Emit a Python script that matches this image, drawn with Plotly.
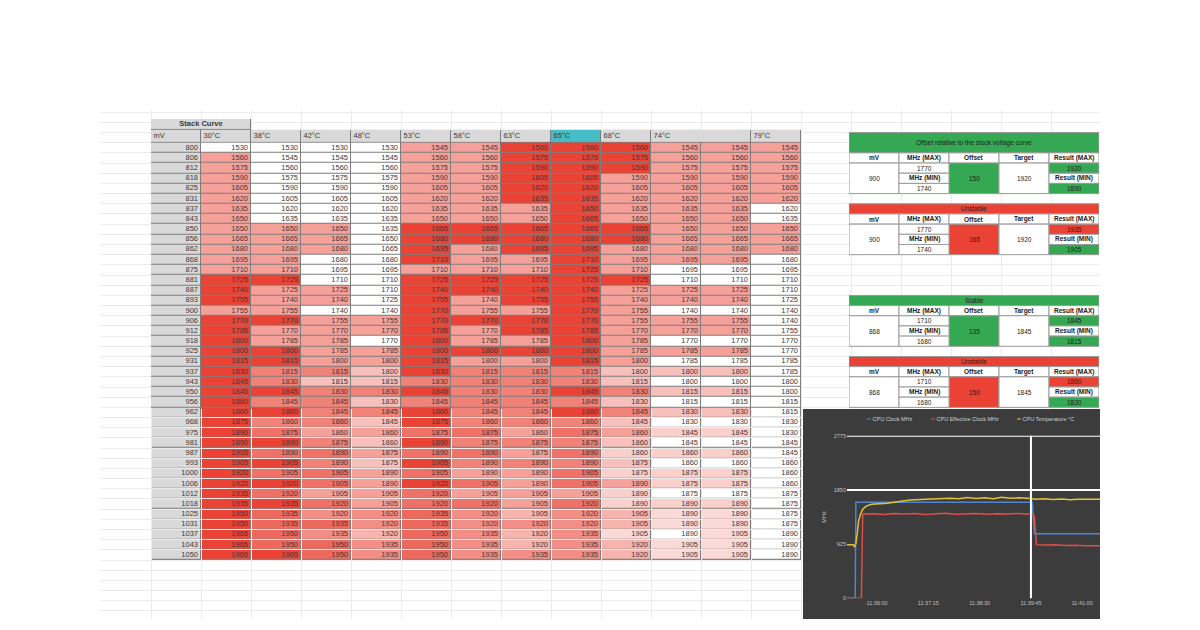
import numpy as np
import plotly.graph_objects as go

W, H = 1200, 630
PAGE_MARGIN = 8          # default <body> margin of the written page
FIG_W, FIG_H = W - 2 * PAGE_MARGIN, H - 2 * PAGE_MARGIN

# ---------------------------------------------------------------- stock curve
mv = [800, 806, 812, 818, 825, 831, 837, 843, 850, 856, 862, 868, 875, 881, 887, 893, 900,
      906, 912, 918, 925, 931, 937, 943, 950, 956, 962, 968, 975, 981, 987, 993, 1000,
      1006, 1012, 1018, 1025, 1031, 1037, 1043, 1050]

temp_labels = ["30°C", "38°C", "42°C", "48°C", "53°C", "58°C", "63°C", "65°C", "68°C", "74°C", "79°C"]
temp_spans = [1, 1, 1, 1, 1, 1, 1, 1, 1, 2, 1]   # 74°C was logged twice
highlight_label = "65°C"

mhz_30 = [1530, 1560, 1575, 1590, 1605, 1620, 1635, 1650, 1650, 1665, 1680, 1695, 1710, 1725,
          1740, 1755, 1755, 1770, 1785, 1800, 1800, 1815, 1830, 1845, 1845, 1860, 1860, 1875,
          1890, 1890, 1905, 1905, 1920, 1920, 1935, 1935, 1950, 1950, 1965, 1965, 1965]
mhz_38 = [1530, 1545, 1560, 1575, 1590, 1605, 1620, 1635, 1650, 1665, 1680, 1695, 1710, 1725,
          1725, 1740, 1755, 1770, 1770, 1785, 1800, 1815, 1815, 1830, 1845, 1845, 1860, 1860,
          1875, 1890, 1890, 1905, 1905, 1920, 1920, 1935, 1935, 1935, 1950, 1950, 1965]
mhz_42 = [1530, 1545, 1560, 1575, 1590, 1605, 1620, 1635, 1650, 1665, 1680, 1680, 1695, 1710,
          1725, 1740, 1740, 1755, 1770, 1785, 1785, 1800, 1815, 1815, 1830, 1845, 1845, 1860,
          1860, 1875, 1890, 1890, 1905, 1905, 1905, 1920, 1920, 1935, 1935, 1950, 1950]
mhz_48 = [1530, 1545, 1560, 1575, 1590, 1605, 1620, 1635, 1635, 1650, 1665, 1680, 1695, 1710,
          1710, 1725, 1740, 1755, 1770, 1770, 1785, 1800, 1800, 1815, 1830, 1830, 1845, 1845,
          1860, 1860, 1875, 1875, 1890, 1890, 1905, 1905, 1920, 1920, 1920, 1935, 1935]
mhz_53 = [1545, 1560, 1575, 1590, 1605, 1620, 1635, 1650, 1665, 1680, 1695, 1710, 1710, 1725,
          1740, 1755, 1770, 1770, 1785, 1800, 1800, 1815, 1830, 1830, 1845, 1845, 1860, 1875,
          1875, 1890, 1890, 1905, 1905, 1920, 1920, 1920, 1935, 1935, 1950, 1950, 1950]
mhz_58 = [1545, 1560, 1575, 1590, 1605, 1620, 1635, 1650, 1665, 1680, 1680, 1695, 1710, 1725,
          1740, 1740, 1755, 1770, 1770, 1785, 1800, 1800, 1815, 1830, 1830, 1845, 1845, 1860,
          1875, 1875, 1890, 1890, 1890, 1905, 1905, 1920, 1920, 1920, 1935, 1935, 1935]
mhz_63 = [1560, 1575, 1590, 1605, 1620, 1635, 1635, 1650, 1665, 1680, 1695, 1695, 1710, 1725,
          1740, 1755, 1755, 1770, 1785, 1785, 1800, 1800, 1815, 1830, 1830, 1845, 1845, 1860,
          1860, 1875, 1875, 1890, 1890, 1890, 1905, 1905, 1905, 1920, 1920, 1920, 1935]
mhz_65 = [1560, 1575, 1590, 1605, 1620, 1635, 1650, 1665, 1665, 1680, 1695, 1710, 1725, 1725,
          1740, 1755, 1770, 1770, 1785, 1800, 1800, 1815, 1815, 1830, 1845, 1845, 1860, 1860,
          1875, 1875, 1890, 1890, 1905, 1905, 1905, 1920, 1920, 1920, 1935, 1935, 1935]
mhz_68 = [1560, 1575, 1590, 1590, 1605, 1620, 1635, 1650, 1665, 1680, 1680, 1695, 1710, 1725,
          1725, 1740, 1755, 1755, 1770, 1785, 1785, 1800, 1800, 1815, 1830, 1830, 1845, 1845,
          1860, 1860, 1860, 1875, 1875, 1890, 1890, 1890, 1905, 1905, 1905, 1920, 1920]
mhz_74a = [1545, 1560, 1575, 1590, 1605, 1620, 1635, 1650, 1650, 1665, 1680, 1695, 1695, 1710,
           1725, 1740, 1740, 1755, 1770, 1770, 1785, 1785, 1800, 1800, 1815, 1815, 1830, 1830,
           1845, 1845, 1860, 1860, 1875, 1875, 1875, 1890, 1890, 1890, 1890, 1905, 1905]
mhz_74b = [1545, 1560, 1575, 1590, 1605, 1620, 1635, 1650, 1650, 1665, 1680, 1695, 1695, 1710,
           1725, 1740, 1740, 1755, 1770, 1770, 1785, 1785, 1800, 1800, 1815, 1815, 1830, 1830,
           1845, 1845, 1860, 1860, 1875, 1875, 1875, 1890, 1890, 1890, 1905, 1905, 1905]
mhz_79 = [1545, 1560, 1575, 1590, 1605, 1620, 1620, 1635, 1650, 1665, 1680, 1680, 1695, 1710,
          1710, 1725, 1740, 1740, 1755, 1770, 1770, 1785, 1785, 1800, 1800, 1815, 1815, 1830,
          1830, 1845, 1845, 1860, 1860, 1860, 1875, 1875, 1875, 1875, 1890, 1890, 1890]

columns = [mhz_30, mhz_38, mhz_42, mhz_48, mhz_53, mhz_58, mhz_63, mhz_65, mhz_68,
           mhz_74a, mhz_74b, mhz_79]

# ---------------------------------------------------------------- offset tables
offset_titles = ["Offset relative to the stock voltage curve", "Unstable", "Stable", "Unstable"]
offset_stable = [True, False, True, False]
offset_mv = [900, 900, 868, 868]
offset_mhz_max = [1770, 1770, 1710, 1710]
offset_mhz_min = [1740, 1740, 1680, 1680]
offset_value = [150, 165, 135, 150]
offset_target = [1920, 1920, 1845, 1845]
offset_headers = ["mV", "MHz (MAX)", "Offset", "Target", "Result (MAX)"]

# ---------------------------------------------------------------- sensor log
DAY = "2021-03-14 "
clock_time = ["11:35:16", "11:35:28", "11:35:29", "11:39:47", "11:39:50", "11:41:26"]
clock_mhz = [0, 0, 1640, 1640, 1100, 1100]

effective_time = ["11:35:16", "11:35:37", "11:35:39", "11:35:55", "11:36:10", "11:36:25",
                  "11:36:40", "11:36:55", "11:37:10", "11:37:25", "11:37:40", "11:37:55",
                  "11:38:10", "11:38:25", "11:38:40", "11:38:55", "11:39:10", "11:39:25",
                  "11:39:40", "11:39:47", "11:39:50", "11:39:53", "11:40:05", "11:40:20",
                  "11:40:35", "11:40:50", "11:41:05", "11:41:26"]
effective_mhz = [0, 0, 1440, 1445, 1432, 1448, 1438, 1446, 1430, 1444, 1450, 1436, 1442, 1447,
                 1433, 1445, 1439, 1448, 1437, 1440, 1400, 915, 908, 912, 900, 905, 895, 898]

temperature_time = ["11:35:16", "11:35:25", "11:35:27", "11:35:29", "11:35:31", "11:35:33",
                    "11:35:36", "11:35:39", "11:35:44", "11:35:52", "11:36:15", "11:36:48",
                    "11:37:20", "11:37:47", "11:38:00", "11:38:12", "11:38:25", "11:38:37",
                    "11:38:50", "11:39:02", "11:39:15", "11:39:27", "11:39:40", "11:39:52",
                    "11:40:05", "11:40:17", "11:40:30", "11:40:42", "11:40:55", "11:41:07",
                    "11:41:26"]
temperature_c = [32.9, 32.9, 31.8, 33.5, 40.0, 47.6, 52.0, 54.8, 56.7, 57.8, 58.5, 60.4, 61.1,
                 61.6, 61.2, 62.0, 61.4, 61.9, 61.3, 62.1, 61.5, 61.8, 61.6, 60.9, 61.2, 60.8,
                 61.1, 60.7, 61.0, 60.8, 60.9]

log_ticks = ["11:36:00", "11:37:15", "11:38:30", "11:39:45", "11:41:00"]
log_range = ["11:35:16", "11:41:26"]
event_time = "11:39:45"
y_ticks = [0, 925, 1850, 2775]
y_marks = [1850, 2775]

# ---------------------------------------------------------------- styling
FONT = "Liberation Sans"
TEXT = "#3a3a3a"
GREY = "#d9d9d9"
TEAL = "#46bdc6"
RED = "#ea4335"
GREEN = "#34a853"
BORDER = "#7d7d7d"
ROW_PX = 10.28          # spreadsheet row height in pixels
ROW0_PX = 141           # top of the 800 mV row
COL_PX, COL0_PX = 50, 101
STACK_TOP_PX, HEAD_TOP_PX = 117, 128
SHEET_L, SHEET_R, SHEET_T, SHEET_B = 100, 1100, 108, H - PAGE_MARGIN
CHART_L, CHART_R, CHART_T, CHART_B = 847, 1100, 437, 601
PANEL_L, PANEL_T, PANEL_B = 803, 410, 622
BLOCK_FIRST_ROW = [-1, 6, 15, 21]
BLOCK_TITLE_ROWS = [2, 1, 1, 1]


def px_x(px):
    return (px - PAGE_MARGIN) / FIG_W


def px_y(py):
    return 1 - (py - PAGE_MARGIN) / FIG_H


def px_row(py):
    return (py - ROW0_PX) / ROW_PX - 0.5


def sheet_axes(left, right, top, bottom, anchor):
    """Faint spreadsheet grid over a pixel box."""
    common = dict(tick0=0, dtick=1, showgrid=True, gridcolor="#ebebeb", gridwidth=1,
                  showticklabels=False, zeroline=False, fixedrange=True)
    xa = dict(domain=[px_x(left), px_x(right)], anchor=anchor[1],
              range=[(left - COL0_PX) / COL_PX, (right - COL0_PX) / COL_PX], **common)
    ya = dict(domain=[px_y(bottom), px_y(top)], anchor=anchor[0],
              range=[(bottom - ROW0_PX) / ROW_PX, (top - ROW0_PX) / ROW_PX], **common)
    return xa, ya


fig = go.Figure()

# faint spreadsheet grid, kept off the chart panel
fig.add_trace(go.Scatter(x=[], y=[], xaxis="x", yaxis="y", showlegend=False))
fig.add_trace(go.Scatter(x=[], y=[], xaxis="x5", yaxis="y6", showlegend=False))

# ---- stock curve table (x2 / y2)
grid = np.array(columns).T
n_rows, n_cols = grid.shape
lo = grid.min(axis=1, keepdims=True)
hi = grid.max(axis=1, keepdims=True)
shade = (grid - lo) / np.where(hi > lo, hi - lo, 1)

stack_row = [px_row(STACK_TOP_PX), px_row(HEAD_TOP_PX)]
head_row = [px_row(HEAD_TOP_PX), -0.5]
col_edges = np.arange(-1.5, n_cols + 0.5)
row_edges = [stack_row[0], head_row[0]] + list(np.arange(-0.5, n_rows + 0.5))
border_z = np.ones((len(row_edges) - 1, len(col_edges) - 1))
border_z[0, 2:] = np.nan
common = dict(xaxis="x2", yaxis="y2", showscale=False, hoverinfo="skip")

fig.add_trace(go.Heatmap(x=col_edges, y=row_edges, z=border_z,
                         colorscale=[[0, BORDER], [1, BORDER]], **common))
fig.add_trace(go.Heatmap(x=[-1.5, 0.5], y=stack_row, z=[[0]],
                         colorscale=[[0, GREY], [1, GREY]], xgap=1, ygap=1, **common))

head_edges = [-1.5, -0.5] + list(-0.5 + np.cumsum(temp_spans))
head_labels = ["mV"] + temp_labels
head_z = [[1 if lab == highlight_label else 0 for lab in head_labels]]
fig.add_trace(go.Heatmap(x=head_edges, y=head_row, z=head_z, zmin=0, zmax=1,
                         colorscale=[[0, GREY], [1, TEAL]], xgap=1, ygap=1, **common))
fig.add_trace(go.Heatmap(x=[-1.5, -0.5], y=np.arange(-0.5, n_rows), z=np.zeros((n_rows, 1)),
                         colorscale=[[0, GREY], [1, GREY]], xgap=1, ygap=1, **common))
fig.add_trace(go.Heatmap(x=np.arange(n_cols), y=np.arange(n_rows), z=shade, zmin=0, zmax=1,
                         colorscale=[[0, "#ffffff"], [1, RED]], xgap=1, ygap=1, **common))

cell_font = dict(family=FONT, size=7.5, color=TEXT)
text_common = dict(xaxis="x2", yaxis="y2", mode="text", showlegend=False, hoverinfo="skip",
                   textfont=cell_font)
fig.add_trace(go.Scatter(x=np.tile(np.arange(n_cols) + 0.44, n_rows),
                         y=np.repeat(np.arange(n_rows), n_cols),
                         text=[str(v) for v in grid.flatten()], textposition="middle left",
                         **text_common))
fig.add_trace(go.Scatter(x=[-0.56] * n_rows, y=np.arange(n_rows), text=[str(v) for v in mv],
                         textposition="middle left", **text_common))
fig.add_trace(go.Scatter(x=[e + 0.05 for e in head_edges[:-1]],
                         y=[sum(head_row) / 2] * len(head_labels),
                         text=head_labels, textposition="middle right", **text_common))
fig.add_trace(go.Scatter(x=[-0.5], y=[sum(stack_row) / 2], text=["<b>Stack Curve</b>"],
                         textposition="middle center", **text_common))

# ---- offset tables (x3 / y2)
fig.add_trace(go.Scatter(x=[], y=[], xaxis="x3", yaxis="y2", showlegend=False))
shapes, annotations = [], []


def cell(x0, x1, y0, y1, fill):
    shapes.append(dict(type="rect", xref="x3", yref="y2", x0=x0, x1=x1, y0=y0, y1=y1,
                       fillcolor=fill, line=dict(color="#9a9a9a", width=1)))


def label(xc, yc, text, bold=False):
    annotations.append(dict(xref="x3", yref="y2", x=xc, y=yc, showarrow=False,
                            text=f"<b>{text}</b>" if bold else text,
                            font=dict(family=FONT, size=6.5, color="#222222")))


for k, title in enumerate(offset_titles):
    status = GREEN if offset_stable[k] else RED
    first, n_title = BLOCK_FIRST_ROW[k], BLOCK_TITLE_ROWS[k]
    cell(0, 5, first - 0.5, first + n_title - 0.5, status)
    label(2.5, first + (n_title - 1) / 2, title)
    h = first + n_title
    for c, name in enumerate(offset_headers):
        cell(c, c + 1, h - 0.5, h + 0.5, "#ffffff")
        label(c + 0.5, h, name, bold=True)
    top, bottom = h + 0.5, h + 3.5
    res_max = offset_mhz_max[k] + offset_value[k]
    res_min = offset_mhz_min[k] + offset_value[k]
    cell(0, 1, top, bottom, "#ffffff")
    label(0.5, h + 2, str(offset_mv[k]))
    cell(2, 3, top, bottom, status)
    label(2.5, h + 2, str(offset_value[k]))
    cell(3, 4, top, bottom, "#ffffff")
    label(3.5, h + 2, str(offset_target[k]))
    for i, (text, bold) in enumerate([(str(offset_mhz_max[k]), False), ("MHz (MIN)", True),
                                      (str(offset_mhz_min[k]), False)]):
        cell(1, 2, h + 0.5 + i, h + 1.5 + i, "#ffffff")
        label(1.5, h + 1 + i, text, bold)
    results = [(str(res_max), GREEN if res_max <= offset_target[k] else RED, False),
               ("Result (MIN)", "#ffffff", True),
               (str(res_min), GREEN if res_min <= offset_target[k] else RED, False)]
    for i, (text, fill, bold) in enumerate(results):
        cell(4, 5, h + 0.5 + i, h + 1.5 + i, fill)
        label(4.5, h + 1 + i, text, bold)

# ---- sensor log chart (x4 / y4, temperature on y5)
shapes.append(dict(type="rect", xref="x4 domain", yref="y4 domain", layer="below",
                   x0=(PANEL_L - CHART_L) / (CHART_R - CHART_L), x1=1,
                   y0=(CHART_B - PANEL_B) / (CHART_B - CHART_T),
                   y1=(CHART_B - PANEL_T) / (CHART_B - CHART_T),
                   fillcolor="#3c3c3c", line=dict(width=0)))
for m in y_marks:
    shapes.append(dict(type="line", xref="x4 domain", yref="y4", x0=0, x1=1, y0=m, y1=m,
                       line=dict(color="#ffffff", width=2)))
shapes.append(dict(type="line", xref="x4", yref="y4 domain", x0=DAY + event_time,
                   x1=DAY + event_time, y0=0, y1=1, line=dict(color="#ffffff", width=2)))

series = [
    ("CPU Clock MHz", clock_time, clock_mhz, "#4f86d0", "y4"),
    ("CPU Effective Clock MHz", effective_time, effective_mhz, "#dc4f46", "y4"),
    ("CPU Temperature °C", temperature_time, temperature_c, "#e3c23a", "y5"),
]
for name, t, v, color, yax in series:
    fig.add_trace(go.Scatter(x=[DAY + s for s in t], y=v, name=name, mode="lines",
                             line=dict(color=color, width=1.5), xaxis="x4", yaxis=yax,
                             showlegend=False, hoverinfo="skip"))

legend_x = [864, 928, 1014]
for (name, _, _, color, _), lx in zip(series, legend_x):
    annotations.append(dict(xref="paper", yref="paper", x=px_x(lx), y=px_y(425),
                            xanchor="left", showarrow=False,
                            text=f"<span style='color:{color}'>━</span> {name}",
                            font=dict(family=FONT, size=5.5, color="#d0d0d0")))

tick_font = dict(family=FONT, size=5.5, color="#c0c0c0")
hidden = dict(visible=False, showgrid=False, zeroline=False, fixedrange=True)

bg_top_x, bg_top_y = sheet_axes(SHEET_L, SHEET_R, SHEET_T, PANEL_T, ("x", "y"))
bg_low_x, bg_low_y = sheet_axes(SHEET_L, PANEL_L, PANEL_T, SHEET_B, ("x5", "y6"))

fig.update_layout(
    width=FIG_W, height=FIG_H, margin=dict(l=0, r=0, t=0, b=0),
    paper_bgcolor="#ffffff", plot_bgcolor="rgba(0,0,0,0)", showlegend=False,
    xaxis=bg_top_x, yaxis=bg_top_y, xaxis5=bg_low_x, yaxis6=bg_low_y,
    xaxis2=dict(domain=[px_x(151), px_x(801)], range=[-1.5, n_cols - 0.5], anchor="y2", **hidden),
    yaxis2=dict(domain=[px_y(ROW0_PX + n_rows * ROW_PX), px_y(STACK_TOP_PX)],
                range=[n_rows - 0.5, stack_row[0]], anchor="x2", **hidden),
    xaxis3=dict(domain=[px_x(849), px_x(1099)], range=[0, 5], anchor="y2", **hidden),
    xaxis4=dict(domain=[px_x(CHART_L), px_x(CHART_R)], anchor="y4", type="date",
                range=[DAY + s for s in log_range], tickvals=[DAY + s for s in log_ticks],
                ticktext=log_ticks, showgrid=False, zeroline=False, showline=False,
                tickfont=tick_font, ticks=""),
    yaxis4=dict(domain=[px_y(CHART_B), px_y(CHART_T)], anchor="x4", range=[0, 2775],
                tickvals=y_ticks, showgrid=False, zeroline=False, showline=False,
                tickfont=tick_font, ticks="",
                title=dict(text="MHz", font=tick_font, standoff=6)),
    yaxis5=dict(overlaying="y4", range=[0, 100], **hidden),
    shapes=shapes, annotations=annotations,
)

fig.write_html("out.html")
